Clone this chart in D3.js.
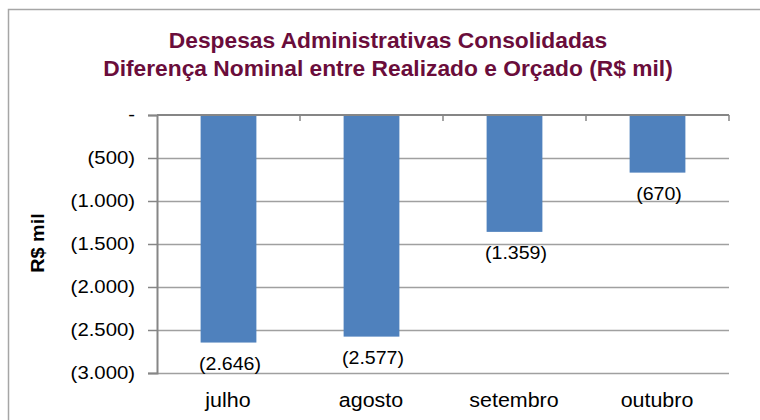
<!DOCTYPE html>
<html><head><meta charset="utf-8">
<script src="https://cdn.jsdelivr.net/npm/d3@7"></script>
<style>body{margin:0;background:#fff}svg{display:block;font-family:"Liberation Sans",Arial,sans-serif}</style>
</head><body><svg id="c" width="760" height="420"></svg>
<script>
const titleLines = ["Despesas Administrativas Consolidadas", "Diferença Nominal entre Realizado e Orçado (R$ mil)"];
const categories = ["julho", "agosto", "setembro", "outubro"];
const values = [-2646, -2577, -1359, -670];
const yTicks = [0, -500, -1000, -1500, -2000, -2500, -3000];
const yTickLabels = ["-", "(500)", "(1.000)", "(1.500)", "(2.000)", "(2.500)", "(3.000)"];
const yLabel = "R$ mil";

const svg = d3.select("#c");
svg.append("rect").attr("x",8.5).attr("y",9.5).attr("width",800).attr("height",500)
  .attr("fill","#fff").attr("stroke","#a6a6a6").attr("stroke-width",1.5);

const L=157, R=729, T=115, B=373;
const x = d3.scaleBand().domain(categories).range([L,R]).paddingInner(0.61).paddingOuter(0.305);
const y = d3.scaleLinear().domain([0,-3000]).range([T,B]);

// gridlines
svg.append("g").selectAll("line").data(yTicks.slice(1)).join("line")
  .attr("x1",L).attr("x2",R).attr("y1",d=>Math.round(y(d))+0.5).attr("y2",d=>Math.round(y(d))+0.5)
  .attr("stroke","#a0a0a0").attr("stroke-width",1.3);

// bars
svg.append("g").selectAll("rect").data(values).join("rect")
  .attr("x",(d,i)=>x(categories[i])).attr("width",x.bandwidth())
  .attr("y",y(0)).attr("height",d=>y(d)-y(0)).attr("fill","#4f81bd");

// y axis
const sT = 1.13;
const yAxis = d3.axisLeft(y).tickValues(yTicks).tickFormat((d,i)=>yTickLabels[i]).tickSize(9).tickPadding(13);
const gy = svg.append("g").attr("transform",`translate(${L},0)`).call(yAxis);
gy.select(".domain").attr("stroke","#868686").attr("stroke-width",2);
gy.selectAll(".tick line").attr("stroke","#868686").attr("stroke-width",1.5);
gy.selectAll(".tick text").attr("font-size",18).attr("fill","#000")
  .attr("font-family","Liberation Sans, Arial, sans-serif")
  .attr("x",-22/sT).attr("transform",`scale(${sT},1)`);

// x axis at zero (top), ticks between categories
const bandStep = x.step();
const sepTicks = categories.map((c,i)=>L+bandStep*(i+1));
svg.append("line").attr("x1",L).attr("x2",R).attr("y1",T).attr("y2",T).attr("stroke","#868686").attr("stroke-width",2);
svg.append("g").selectAll("line").data(sepTicks).join("line")
  .attr("x1",d=>d).attr("x2",d=>d).attr("y1",T).attr("y2",T+6).attr("stroke","#868686").attr("stroke-width",1.5);

// category labels at bottom
svg.append("g").selectAll("text").data(categories).join("text")
  .attr("transform",d=>`translate(${x(d)+x.bandwidth()/2-0.5},407) scale(1.1,1)`).attr("text-anchor","middle")
  .attr("font-size",19.5).attr("fill","#000").text(d=>d);

// data labels
const fmt = v => "(" + d3.format(",")(Math.abs(v)).replace(/,/g,".") + ")";
svg.append("g").selectAll("text").data(values).join("text")
  .attr("transform",(d,i)=>`translate(${x(categories[i])+x.bandwidth()/2+1.5},${y(d)+27}) scale(1.12,1)`)
  .attr("text-anchor","middle").attr("font-size",17.5).attr("fill","#000").text(fmt);

// title
svg.append("g").selectAll("text").data(titleLines).join("text")
  .attr("transform",(d,i)=>`translate(388,${48+i*27.5}) scale(1.06,1)`).attr("text-anchor","middle")
  .attr("font-size",21.5).attr("font-weight","bold").attr("fill","#6a0d3b").text(d=>d);

// y label
svg.append("text").attr("transform","translate(44,243) rotate(-90) scale(1.1,1)").attr("text-anchor","middle")
  .attr("font-size",18).attr("font-weight","bold").attr("fill","#000").text(yLabel);
</script></body></html>
